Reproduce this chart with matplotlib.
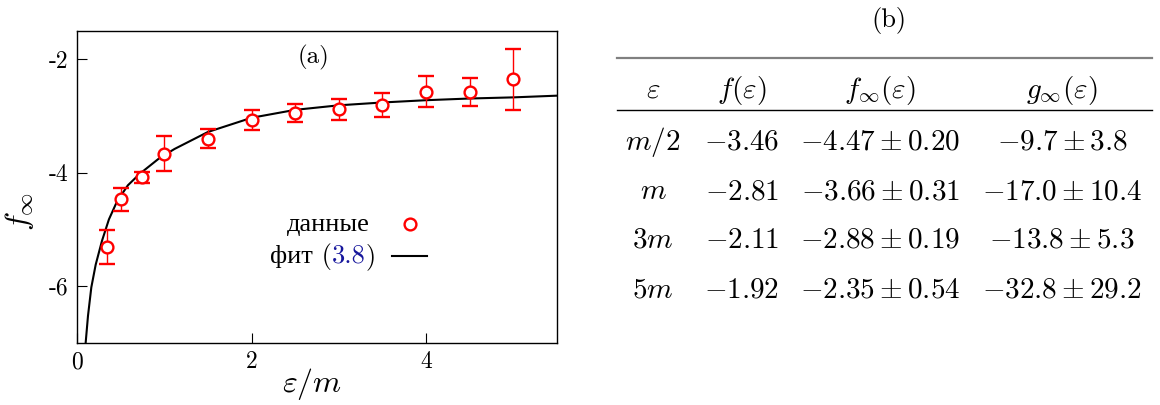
import numpy as np
import matplotlib
matplotlib.use('Agg')
from matplotlib import pyplot as plt
from matplotlib.lines import Line2D
from matplotlib.offsetbox import TextArea, DrawingArea, HPacker, VPacker, AnchoredOffsetbox

plt.rcParams['font.family'] = ['cmr10', 'Liberation Serif']
plt.rcParams['mathtext.fontset'] = 'cm'
plt.rcParams['axes.unicode_minus'] = False
plt.rcParams['axes.formatter.use_mathtext'] = True

# данные (a)
eps_m = [0.34, 0.5, 0.75, 1.0, 1.5, 2.0, 2.5, 3.0, 3.5, 4.0, 4.5, 5.0]
f_inf = [-5.31, -4.47, -4.08, -3.66, -3.40, -3.07, -2.95, -2.88, -2.81, -2.57, -2.57, -2.35]
f_err = [0.30, 0.20, 0.10, 0.31, 0.17, 0.17, 0.16, 0.19, 0.21, 0.27, 0.25, 0.54]

fit_x = [0.099, 0.126, 0.164, 0.214, 0.286, 0.366, 0.46, 0.583, 0.717, 0.945,
         1.117, 1.5, 2.0, 2.5, 3.0, 3.5, 4.0, 4.5, 5.0, 5.5]
fit_y = [-7.0, -6.52, -6.02, -5.62, -5.20, -4.82, -4.50, -4.22, -4.02, -3.74,
         -3.58, -3.28, -3.03, -2.89, -2.81, -2.76, -2.72, -2.69, -2.67, -2.64]

x_ticks = [0, 2, 4]
x_ticklabels = ['0', '2', '4']
y_ticks = [-2, -4, -6]
y_ticklabels = ['-2', '-4', '-6']

# таблица (b)
tab_head = [r'$\varepsilon$', r'$f(\varepsilon)$', r'$f_\infty(\varepsilon)$', r'$g_\infty(\varepsilon)$']
tab_eps = [r'$m/2$', r'$m$', r'$3m$', r'$5m$']
tab_f = ['-3.46', '-2.81', '-2.11', '-1.92']
tab_finf = ['-4.47', '-3.66', '-2.88', '-2.35']
tab_finf_err = ['0.20', '0.31', '0.19', '0.54']
tab_ginf = ['-9.7', '-17.0', '-13.8', '-32.8']
tab_ginf_err = ['3.8', '10.4', '5.3', '29.2']

W, H = 1160, 405
fig = plt.figure(figsize=(W / 100, H / 100), dpi=100)

def fx(px):
    return px / W

def fy(py):
    return 1 - py / H

ax = fig.add_axes([fx(77), fy(343), fx(557) - fx(77), fy(31) - fy(343)])

ax.plot(fit_x, fit_y, color='black', lw=1.5, zorder=2)
ax.errorbar(eps_m, f_inf, yerr=f_err, fmt='o', color='red', ecolor='red', elinewidth=1,
            capsize=5.5, capthick=1, ms=8.5, mfc='white', mec='red', mew=1.7, zorder=3)

ax.set_xlim(0, 5.5)
ax.set_ylim(-7, -1.5)
ax.set_xticks(x_ticks)
ax.set_xticklabels(x_ticklabels)
ax.set_yticks(y_ticks)
ax.set_yticklabels(y_ticklabels)
ax.tick_params(direction='in', length=7, width=0.8, top=False, right=False, labelsize=17, pad=6)
for s in ax.spines.values():
    s.set_linewidth(1.0)

ax.set_xlabel(r'$\varepsilon/m$', fontsize=23)
ax.xaxis.set_label_coords(0.49, -0.075)
ax.set_ylabel(r'$f_\infty$', fontsize=23)
ax.yaxis.set_label_coords(-0.085, 0.42)

ax.text(0.492, 0.916, '(a)', transform=ax.transAxes, ha='center', va='center', fontsize=18)

# легенда
tp = dict(fontsize=19)
key1 = DrawingArea(25, 14, 0, 0)
key1.add_artist(Line2D([12.5], [7], marker='o', ms=8.5, mfc='white', mec='red', mew=1.7, ls='none'))
row1 = HPacker(children=[TextArea('данные', textprops=tp), key1], align='center', pad=0, sep=16)
key2 = DrawingArea(25, 14, 0, 0)
key2.add_artist(Line2D([0, 25], [7, 7], color='black', lw=1.5))
lab2 = HPacker(children=[TextArea('фит (', textprops=tp),
                         TextArea('3.8', textprops=dict(fontsize=19, color='#16169c')),
                         TextArea(')', textprops=tp)], align='baseline', pad=0, sep=0)
row2 = HPacker(children=[lab2, key2], align='center', pad=0, sep=12)
leg = VPacker(children=[row1, row2], align='right', pad=0, sep=5)
ab = AnchoredOffsetbox(loc='center right', child=leg, frameon=False, pad=0, borderpad=0,
                       bbox_to_anchor=(0.729, 0.327), bbox_transform=ax.transAxes)
ax.add_artist(ab)

# таблица
fig.text(fx(889), fy(20), '(b)', ha='center', va='center', fontsize=19)
fig.add_artist(Line2D([fx(617), fx(1152)], [fy(57.5), fy(57.5)], color='#808080', lw=1.6,
                      transform=fig.transFigure))
fig.add_artist(Line2D([fx(617), fx(1152)], [fy(110), fy(110)], color='black', lw=1.0,
                      transform=fig.transFigure))

col_x = [653, 742, 880, 1062]
head_y = 98
row_y = [150, 199, 248, 297]
for cx, h in zip(col_x, tab_head):
    fig.text(fx(cx), fy(head_y), h, ha='center', va='baseline', fontsize=21)
for i, ry in enumerate(row_y):
    cells = [tab_eps[i],
             r'$' + tab_f[i] + r'$',
             r'$' + tab_finf[i] + r'\pm' + tab_finf_err[i] + r'$',
             r'$' + tab_ginf[i] + r'\pm' + tab_ginf_err[i] + r'$']
    for cx, c in zip(col_x, cells):
        fig.text(fx(cx), fy(ry), c, ha='center', va='baseline', fontsize=21)

fig.savefig('out.png', dpi=100)
